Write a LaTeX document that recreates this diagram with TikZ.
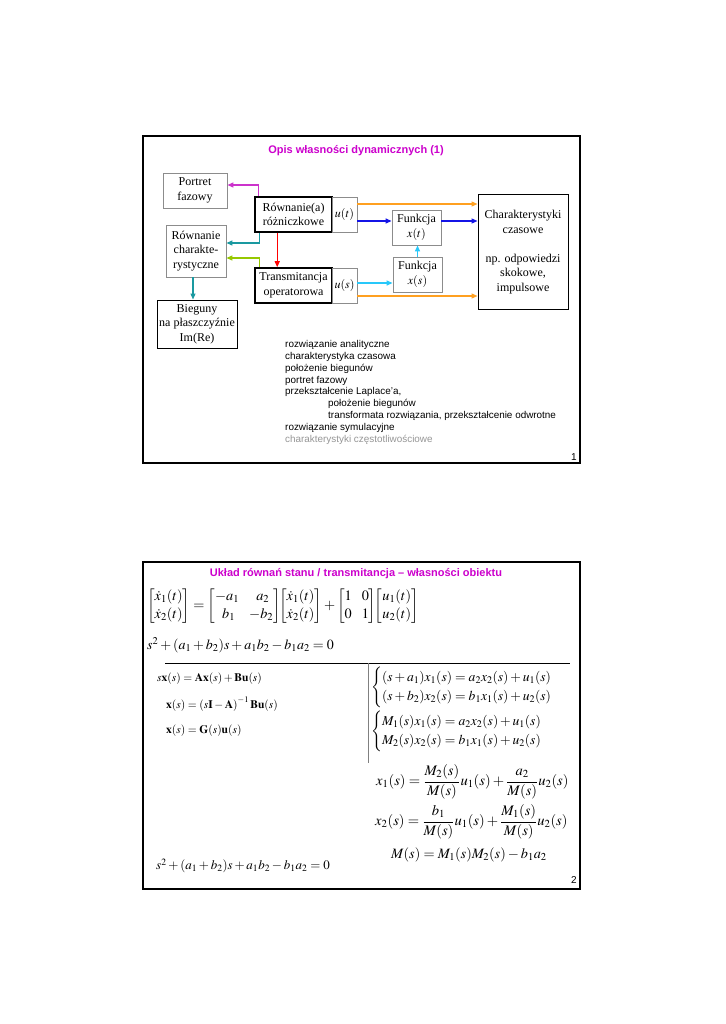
\documentclass[tikz,border=0pt]{standalone}
\usepackage{amsmath}
\usepackage{mathptmx}
\usepackage[no-math]{fontspec}
\setmainfont{Liberation Serif}
\setsansfont{Liberation Sans}
\usetikzlibrary{arrows.meta}
\definecolor{ttl}{RGB}{204,0,204}
\definecolor{aorange}{RGB}{255,160,32}
\definecolor{ablue}{RGB}{20,20,230}
\definecolor{acyan}{RGB}{40,200,250}
\definecolor{amag}{RGB}{204,51,204}
\definecolor{ateal}{RGB}{26,153,160}
\definecolor{agreen}{RGB}{150,200,0}
\definecolor{ared}{RGB}{255,0,0}
\definecolor{txtgray}{RGB}{150,150,150}
\tikzset{
  frame/.style={draw=black,line width=1.4pt},
  gbox/.style={draw=gray!90,line width=0.9pt,inner sep=0pt,align=center,font=\fontsize{12}{14.5}\selectfont},
  kbox/.style={draw=black,line width=1.6pt,inner sep=0pt,align=center,font=\fontsize{12}{14.5}\selectfont},
  mbox/.style={draw=black,line width=1pt,inner sep=0pt,align=center,font=\fontsize{12}{14.5}\selectfont},
  arr/.style={line width=1.3pt,-{Triangle[length=6pt,width=5pt]}},
  titletext/.style={font=\sffamily\bfseries\fontsize{11}{13}\selectfont,text=ttl},
  eq/.style={anchor=west,inner sep=0pt,font=\fontsize{13}{16}\selectfont},
  pnum/.style={font=\sffamily\fontsize{10}{12}\selectfont,inner sep=0pt}
}
\begin{document}
\begin{tikzpicture}[x=1pt,y=-1pt]
\useasboundingbox[fill=white] (0,0) rectangle (725,1024);
% ---------------- slide 1
\draw[frame] (143,136) rectangle (580,463);
\node[titletext] (t1) at (356,151) {Opis własności dynamicznych (1)};

\node[gbox,minimum width=64pt,minimum height=35pt] (pf) at (195,190.5) {Portret\\fazowy};
\node[kbox,minimum width=77pt,minimum height=35pt] (rd) at (293.5,214.5) {Równanie(a)\\różniczkowe};
\node[gbox,minimum width=25pt,minimum height=35pt] (ut) at (344.5,214.5) {$u(t)$};
\node[gbox,minimum width=60pt,minimum height=52pt] (rc) at (196,251) {Równanie\\charakte-\\rystyczne};
\node[kbox,minimum width=77pt,minimum height=35pt] (tr) at (293.5,285.5) {Transmitancja\\operatorowa};
\node[gbox,minimum width=25pt,minimum height=35pt] (us) at (344.5,285.5) {$u(s)$};
\node[mbox,minimum width=80pt,minimum height=48pt] (bg) at (197,324) {Bieguny\\na płaszczyźnie\\Im(Re)};
\node[gbox,minimum width=49pt,minimum height=35pt] (fxt) at (416.5,227.5) {Funkcja\\$x(t)$};
\node[gbox,minimum width=49pt,minimum height=35pt] (fxs) at (417.5,274.5) {Funkcja\\$x(s)$};
\node[mbox,minimum width=90pt,minimum height=114pt] (ch) at (523,252) {Charakterystyki\\czasowe\\[14.5pt]np. odpowiedzi\\skokowe,\\impulsowe};

\draw[arr,aorange] ([yshift=10.5pt]ut.east) coordinate (o1) -- (o1 -| ch.west);
\draw[arr,ablue] ([yshift=-6.5pt]ut.east) coordinate (b1) -- (b1 -| fxt.west);
\draw[arr,ablue] (b1 -| fxt.east) -- (b1 -| ch.west);
\draw[arr,acyan] ([yshift=2.5pt]us.east) coordinate (c1) -- (c1 -| fxs.west);
\draw[arr,aorange] ([yshift=-10.5pt]us.east) coordinate (o2) -- (o2 -| ch.west);
\draw[arr,acyan] (fxs.north) -- (fxs.north |- fxt.south);
\draw[arr,amag] ([xshift=4pt]rd.north west) |- ([yshift=5.5pt]pf.east);
\draw[arr,ateal] ([xshift=5pt]rd.south west) |- ([yshift=8pt]rc.east);
\draw[arr,agreen] ([xshift=5pt]tr.north west) |- ([yshift=-7pt]rc.east);
\draw[arr,ared] ([xshift=23pt]rd.south west) -- ([xshift=23pt]tr.north west);
\draw[arr,ateal] ([xshift=-3pt]rc.south) coordinate (t2) -- (t2 |- bg.north);

\node[anchor=north west,inner sep=0pt,align=left,font=\sffamily\fontsize{9.9}{11.9}\selectfont] (lst) at (285,340) {%
rozwiązanie analityczne\\
charakterystyka czasowa\\
położenie biegunów\\
portret fazowy\\
przekształcenie Laplace'a,\\
\hspace*{43pt}położenie biegunów\\
\hspace*{43pt}transformata rozwiązania, przekształcenie odwrotne\\
rozwiązanie symulacyjne\\
\textcolor{txtgray}{charakterystyki częstotliwościowe}};
\node[pnum] (p1) at (574,457) {1};

% ---------------- slide 2
\draw[frame] (143,562) rectangle (580,889);
\node[titletext] (t2t) at (356,573.5) {Układ równań stanu / transmitancja – własności obiektu};

\node[eq,font=\fontsize{14.3}{17.5}\selectfont] (meq) at (147,606) {$\begin{bmatrix}\dot x_1(t)\\ \dot x_2(t)\end{bmatrix}=\begin{bmatrix}-a_1 & \;a_2\\ \;b_1 & -b_2\end{bmatrix}\!\!\begin{bmatrix}\dot x_1(t)\\ \dot x_2(t)\end{bmatrix}+\begin{bmatrix}1 & 0\\ 0 & 1\end{bmatrix}\!\!\begin{bmatrix}u_1(t)\\ u_2(t)\end{bmatrix}$};
\node[eq,font=\fontsize{14}{17}\selectfont] (ceq) at (147,645) {$s^2+(a_1+b_2)s+a_1b_2-b_1a_2=0$};

\draw[line width=0.8pt] (165,663) coordinate (h1) -- (570,663) coordinate (h2);
\draw[line width=0.8pt,gray] (368,663) coordinate (v1) -- (368,763) coordinate (v2);

\node[eq,font=\fontsize{11.5}{14}\selectfont] (e1) at (157,679) {$s\mathbf{x}(s)=\mathbf{A}\mathbf{x}(s)+\mathbf{B}\mathbf{u}(s)$};
\node[eq,font=\fontsize{11.5}{14}\selectfont] (e2) at (166,704) {$\mathbf{x}(s)=\left(s\mathbf{I}-\mathbf{A}\right)^{-1}\mathbf{B}\mathbf{u}(s)$};
\node[eq,font=\fontsize{11.5}{14}\selectfont] (e3) at (166,731) {$\mathbf{x}(s)=\mathbf{G}(s)\mathbf{u}(s)$};

\node[eq,font=\fontsize{13.6}{16}\selectfont] (r1) at (371,687) {$\begin{cases}(s+a_1)x_1(s)=a_2x_2(s)+u_1(s)\\ (s+b_2)x_2(s)=b_1x_1(s)+u_2(s)\end{cases}$};
\node[eq,font=\fontsize{13.6}{16}\selectfont] (r2) at (371,731) {$\begin{cases}M_1(s)x_1(s)=a_2x_2(s)+u_1(s)\\ M_2(s)x_2(s)=b_1x_1(s)+u_2(s)\end{cases}$};
\node[eq,font=\fontsize{14.6}{17}\selectfont] (r3) at (376,782) {$x_1(s)=\dfrac{M_2(s)}{M(s)}u_1(s)+\dfrac{a_2}{M(s)}u_2(s)$};
\node[eq,font=\fontsize{14.6}{17}\selectfont] (r4) at (375,822) {$x_2(s)=\dfrac{b_1}{M(s)}u_1(s)+\dfrac{M_1(s)}{M(s)}u_2(s)$};
\node[eq,font=\fontsize{14.3}{17}\selectfont] (r5) at (391,855) {$M(s)=M_1(s)M_2(s)-b_1a_2$};
\node[eq] (r6) at (156,866) {$s^2+(a_1+b_2)s+a_1b_2-b_1a_2=0$};
\node[pnum] (p2) at (574,880) {2};
\end{tikzpicture}
\end{document}
